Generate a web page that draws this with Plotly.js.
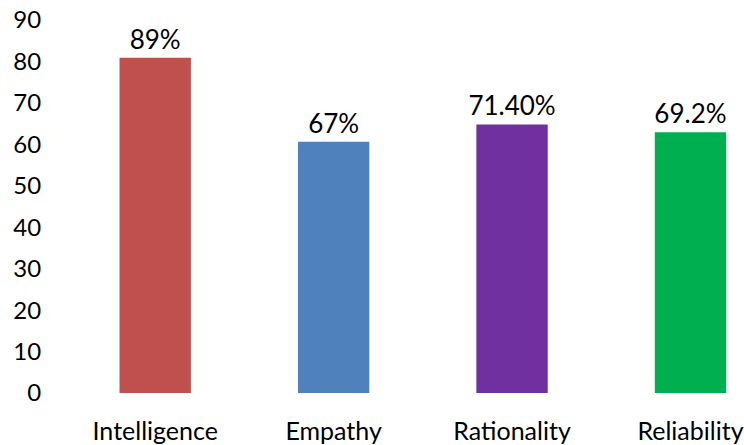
<!DOCTYPE html>
<html><head><meta charset="utf-8">
<script src="https://cdn.plot.ly/plotly-3.0.1.min.js"></script>
<style>html,body{margin:0;padding:0;background:#fff}#c{width:744px;height:445px}</style>
</head><body><div id="c"></div>
<script>
const categories = ["Intelligence", "Empathy", "Rationality", "Reliability"];
const values = [80.9, 60.6, 64.8, 62.9];
const labels = ["89%", "67%", "71.40%", "69.2%"];
const colors = ["#C0504D", "#4F81BD", "#7030A0", "#00B050"];
const yTicks = [0, 10, 20, 30, 40, 50, 60, 70, 80, 90];

const font = "Lato, 'Noto Sans', sans-serif";
Plotly.newPlot("c", [{
  type: "bar",
  x: categories,
  y: values,
  text: labels,
  textposition: "outside",
  constraintext: "none",
  textfont: {family: font, size: 26, color: "#000"},
  cliponaxis: false,
  marker: {color: colors},
  hoverinfo: "none"
}], {
  width: 744, height: 445,
  margin: {l: 66, r: 0, t: 20, b: 52},
  bargap: 0.6,
  showlegend: false,
  paper_bgcolor: "#fff", plot_bgcolor: "#fff",
  xaxis: {range: [-0.5, 3.3], showgrid: false, zeroline: false, showline: false,
    ticks: "outside", ticklen: 16, tickcolor: "rgba(0,0,0,0)",
    tickfont: {family: font, size: 25, color: "#000"}},
  yaxis: {range: [0, 90], tickvals: yTicks, showgrid: false, zeroline: false, showline: false,
    ticks: "outside", ticklen: 19, tickcolor: "rgba(0,0,0,0)",
    tickfont: {family: font, size: 24, color: "#000"}}
}, {staticPlot: true});
</script></body></html>
